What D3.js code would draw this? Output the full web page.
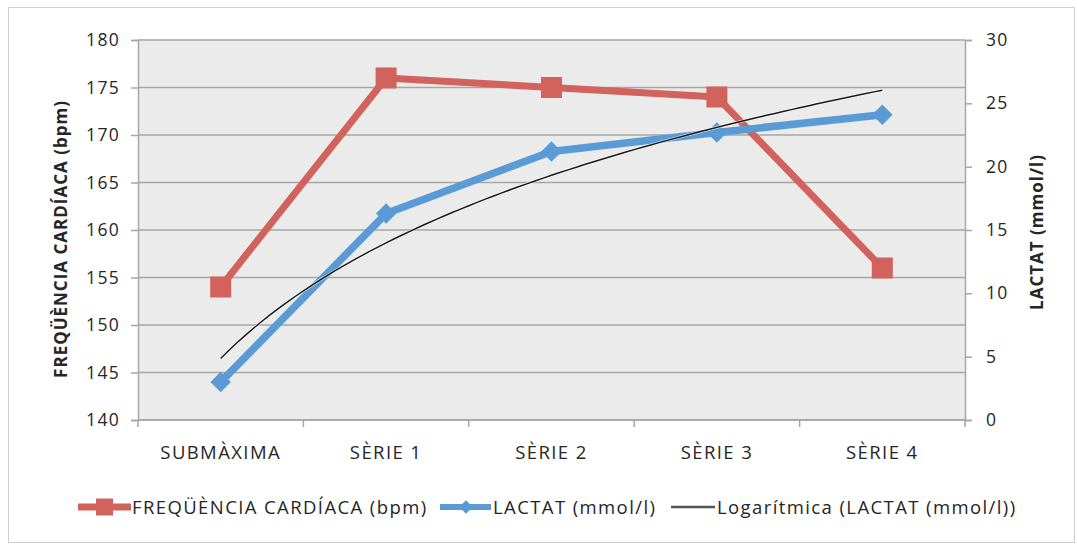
<!DOCTYPE html>
<html><head><meta charset="utf-8">
<script src="https://cdn.jsdelivr.net/npm/d3@7"></script>
<style>body{margin:0;background:#fff}svg{display:block}text{font-family:"Open Sans",sans-serif;fill:#262626}</style>
</head><body>
<svg id="c" width="1077" height="545"></svg>
<script>
const categories = ["SUBMÀXIMA","SÈRIE 1","SÈRIE 2","SÈRIE 3","SÈRIE 4"];
const freq = [154, 176, 175, 174, 156];
const lactat = [3.0, 16.3, 21.2, 22.7, 24.1];
const leftTicks = [140,145,150,155,160,165,170,175,180];
const rightTicks = [0,5,10,15,20,25,30];
const names = ["FREQÜÈNCIA CARDÍACA (bpm)","LACTAT (mmol/l)","Logarítmica (LACTAT (mmol/l))"];
const red = "#d1625c", blue = "#5b9bd5";
const FS = 17.5, LS = 1.3, FS2 = 18.5, LS2 = 1.4;

const svg = d3.select("#c");
const m = {l:138, r:965, t:40, b:420};
svg.append("rect").attr("x",8.5).attr("y",7.5).attr("width",1066).attr("height",535).attr("fill","#fff").attr("stroke","#cfcfcf");

const x = d3.scaleBand().domain(categories).range([m.l,m.r]);
const yL = d3.scaleLinear().domain([140,180]).range([m.b,m.t]);
const yR = d3.scaleLinear().domain([0,30]).range([m.b,m.t]);

svg.append("rect").attr("x",m.l).attr("y",m.t).attr("width",m.r-m.l).attr("height",m.b-m.t).attr("fill","#ebebeb");
svg.append("g").selectAll("line").data(leftTicks).join("line")
  .attr("x1",m.l).attr("x2",m.r).attr("y1",d=>yL(d)).attr("y2",d=>yL(d))
  .attr("stroke","#a6a6a6").attr("stroke-width",1.5);

const gL = svg.append("g").attr("transform",`translate(${m.l},0)`)
  .call(d3.axisLeft(yL).tickValues(leftTicks).tickSize(7).tickPadding(11));
const gR = svg.append("g").attr("transform",`translate(${m.r},0)`)
  .call(d3.axisRight(yR).tickValues(rightTicks).tickSize(7).tickPadding(14));
const gB = svg.append("g").attr("transform",`translate(0,${m.b})`)
  .call(d3.axisBottom(x).tickSize(0).tickPadding(26));
[gL,gR,gB].forEach(g=>{
  g.select(".domain").attr("stroke","#a6a6a6").attr("stroke-width",1.5);
  g.selectAll(".tick line").attr("stroke","#a6a6a6").attr("stroke-width",1.5);
  g.selectAll("text").attr("font-size",FS).attr("letter-spacing",LS).attr("fill","#262626").attr("font-family","Open Sans");
});
gB.selectAll("text").attr("font-size",FS2).attr("letter-spacing",LS2);
gB.select(".domain").remove();
svg.append("line").attr("x1",m.l).attr("x2",m.r).attr("y1",m.b).attr("y2",m.b).attr("stroke","#a6a6a6").attr("stroke-width",1.5);
const bounds = categories.map(c=>x(c)).concat([m.r]);
svg.append("g").selectAll("line").data(bounds).join("line")
  .attr("x1",d=>d).attr("x2",d=>d).attr("y1",m.b).attr("y2",m.b+7)
  .attr("stroke","#a6a6a6").attr("stroke-width",1.5);

svg.append("text").attr("transform",`translate(67,${(m.t+m.b)/2+9}) rotate(-90)`)
  .attr("text-anchor","middle").attr("font-size",17).attr("letter-spacing",1).attr("font-weight","bold").attr("fill","#111").text("FREQÜÈNCIA CARDÍACA (bpm)");
svg.append("text").attr("transform",`translate(1043,${(m.t+m.b)/2+2}) rotate(-90)`)
  .attr("text-anchor","middle").attr("font-size",17).attr("letter-spacing",1).attr("font-weight","bold").attr("fill","#111").text("LACTAT (mmol/l)");

const cx = c => x(c) + x.bandwidth()/2;

// logarithmic trendline: least-squares fit of lactat on ln(1..n)
const lx = lactat.map((_,i)=>Math.log(i+1));
const mx = d3.mean(lx), my = d3.mean(lactat);
const a = d3.sum(lx.map((v,i)=>(v-mx)*(lactat[i]-my))) / d3.sum(lx.map(v=>(v-mx)*(v-mx)));
const b = my - a*mx;
const step = x.step();
const xs = d3.range(1, 5.0001, 0.05);
const trend = xs.map(t=>[cx(categories[0]) + (t-1)*step, yR(a*Math.log(t)+b)]);

svg.append("path").datum(freq).attr("fill","none").attr("stroke",red).attr("stroke-width",7).attr("stroke-linejoin","round")
  .attr("d", d3.line().x((d,i)=>cx(categories[i])).y(d=>yL(d)));
svg.append("g").selectAll("rect").data(freq).join("rect")
  .attr("x",(d,i)=>cx(categories[i])-10.5).attr("y",d=>yL(d)-10.5).attr("width",21).attr("height",21).attr("fill",red);

svg.append("path").datum(lactat).attr("fill","none").attr("stroke",blue).attr("stroke-width",7.5).attr("stroke-linejoin","round")
  .attr("d", d3.line().x((d,i)=>cx(categories[i])).y(d=>yR(d)));
svg.append("g").selectAll("path").data(lactat).join("path")
  .attr("d",d3.symbol().type(d3.symbolSquare).size(210))
  .attr("transform",(d,i)=>`translate(${cx(categories[i])},${yR(d)}) rotate(45)`)
  .attr("fill",blue);

svg.append("path").datum(trend).attr("fill","none").attr("stroke","#fff").attr("stroke-width",3).attr("opacity",0.6)
  .attr("d", d3.line());
svg.append("path").datum(trend).attr("fill","none").attr("stroke","#1a1a1a").attr("stroke-width",1.5)
  .attr("d", d3.line());

const ly = 507;
const lg = svg.append("g");
lg.append("line").attr("x1",78).attr("x2",131).attr("y1",ly).attr("y2",ly).attr("stroke",red).attr("stroke-width",7);
lg.append("rect").attr("x",96).attr("y",ly-8.5).attr("width",17).attr("height",17).attr("fill",red);
lg.append("text").attr("x",132).attr("y",ly+7).attr("font-size",FS2).attr("letter-spacing",LS2).text(names[0]);
lg.append("line").attr("x1",440).attr("x2",491).attr("y1",ly).attr("y2",ly).attr("stroke",blue).attr("stroke-width",6);
lg.append("path").attr("d",d3.symbol().type(d3.symbolSquare).size(90)).attr("transform",`translate(466,${ly}) rotate(45)`).attr("fill",blue);
lg.append("text").attr("x",493).attr("y",ly+7).attr("font-size",FS2).attr("letter-spacing",LS2).text(names[1]);
lg.append("line").attr("x1",671).attr("x2",715).attr("y1",ly).attr("y2",ly).attr("stroke","#555").attr("stroke-width",2.5);
lg.append("text").attr("x",717).attr("y",ly+7).attr("font-size",FS2).attr("letter-spacing",LS2).text(names[2]);
</script>
</body></html>
